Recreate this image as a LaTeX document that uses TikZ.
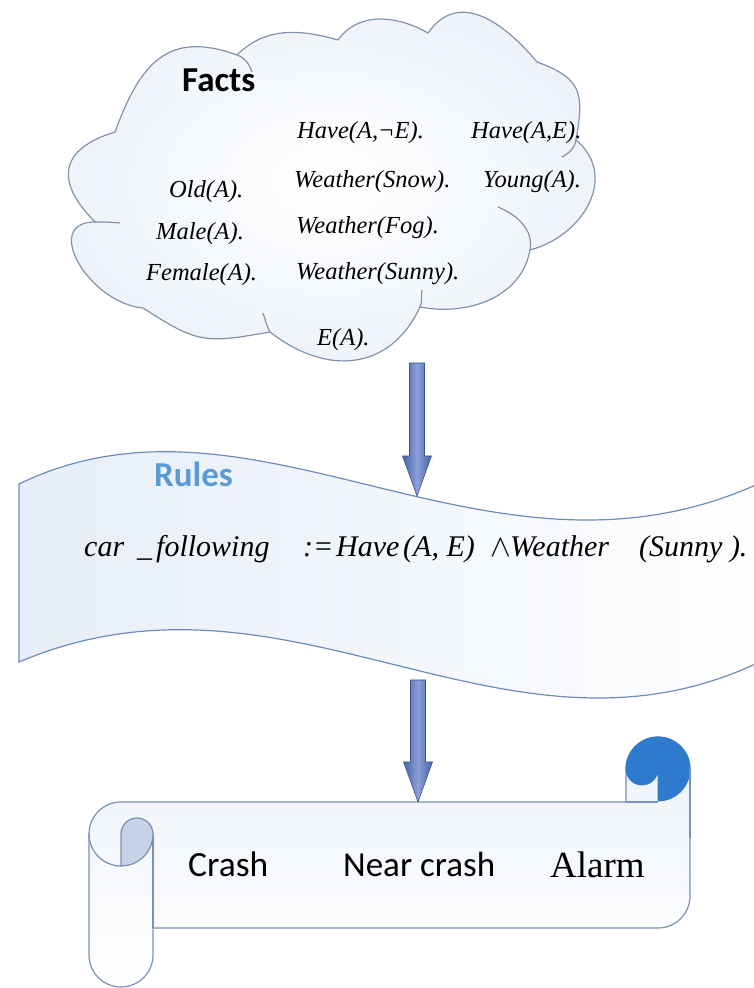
\documentclass[tikz,border=0pt]{standalone}
\usepackage{fontspec}
\setmainfont{Liberation Serif}
\newfontfamily\carl{Carlito}
\usetikzlibrary{calc}
\definecolor{cloudedge}{RGB}{130,146,170}
\definecolor{waveedge}{RGB}{110,140,185}
\definecolor{scrolledge}{RGB}{120,145,180}
\definecolor{rulesblue}{RGB}{91,155,213}
\definecolor{rollblue}{RGB}{46,122,204}
\definecolor{curlfill}{RGB}{200,210,230}
\definecolor{arrowdark}{RGB}{70,98,165}
\definecolor{arrowlight}{RGB}{140,160,215}
\definecolor{paleblue}{RGB}{222,232,245}
\tikzset{
  fact/.style={anchor=base west, font=\fontsize{24.5}{28}\selectfont\itshape, inner sep=0pt},
  title/.style={anchor=base west, font=\carl\bfseries\fontsize{35}{40}\selectfont, inner sep=0pt},
  outtext/.style={anchor=base west, inner sep=0pt},
  curl/.style={draw=cloudedge, line width=1.2pt},
  fatarrow/.style={left color=arrowdark, right color=arrowdark, middle color=arrowlight, draw=arrowdark!85!black, line width=0.6pt}
}
\newcommand{\bigarrow}[2]{%
  \shadedraw[fatarrow] ($(#1)+(-7.5,0)$) -- ($(#2)+(-7.5,40)$) -- ($(#2)+(-14.5,40)$) -- (#2) -- ($(#2)+(14.5,40)$) -- ($(#2)+(7.5,40)$) -- ($(#1)+(7.5,0)$) -- cycle;}
\begin{document}
\begin{tikzpicture}[x=1pt,y=1pt]
\useasboundingbox (0,0) rectangle (753,988);

% ---------------- cloud ----------------
\coordinate (P1) at (115,856);
\coordinate (P2) at (237,933);
\coordinate (P3) at (338,948);
\coordinate (P4) at (428,955);
\coordinate (P5) at (537,926);
\coordinate (P6) at (576,848);
\coordinate (P7) at (530,738);
\coordinate (P8) at (420,681);
\coordinate (P9) at (270,656);
\coordinate (P10) at (143,680);
\coordinate (P11) at (95,766);
\shadedraw[draw=cloudedge, line width=1.2pt, inner color=white, outer color=paleblue!55]
  (P1) to[out=70,in=160,looseness=1.3] (P2)
  to[out=45,in=164] (P3)
  to[out=55,in=150] (P4)
  to[out=55,in=130,looseness=1.2] (P5)
  to[out=-20,in=80,looseness=1.4] (P6)
  to[out=-40,in=15,looseness=1.2] (P7)
  to[out=260,in=-11] (P8)
  to[out=245,in=322,looseness=1.2] (P9)
  to[out=190,in=327,looseness=1.3] (P10)
  to[out=175,in=180,looseness=1.4] (P11)
  to[out=135,in=197,looseness=1.6] (P1) -- cycle;
\draw[curl] (P2) to[out=-20,in=110] (252,916);
\draw[curl] (P6) to[out=260,in=30] (562,831);
\draw[curl] (P7) to[out=80,in=-23] (498,781);
\draw[curl] (P8) to[out=65,in=260] (422,698);
\draw[curl] (P9) to[out=120,in=290] (263,675);
\draw[curl] (P11) to[out=0,in=175] (120,765);

\node[title] (facts) at (182,896) {Facts};
\node[fact] (f1) at (297,849) {Have(A,¬E).};
\node[fact] (f2) at (471,849) {Have(A,E).};
\node[fact] (f3) at (294,800) {Weather(Snow).};
\node[fact] (f4) at (483,800) {Young(A).};
\node[fact] (f5) at (169,790) {Old(A).};
\node[fact] (f6) at (296,754) {Weather(Fog).};
\node[fact] (f7) at (156,748) {Male(A).};
\node[fact] (f8) at (146,707) {Female(A).};
\node[fact] (f9) at (296,708) {Weather(Sunny).};
\node[fact] (f10) at (317,642) {E(A).};

% ---------------- wave (rules) ----------------
\shadedraw[draw=waveedge, line width=1.2pt, left color=paleblue!75, right color=white]
  (19,504) .. controls (265,623) and (505,363) .. (790,520)
  -- (790,342) .. controls (520,185) and (300,445) .. (19,326) -- cycle;
\node[title, text=rulesblue] (rules) at (154,501) {Rules};
\node[outtext, font=\fontsize{30}{34}\selectfont\itshape] (rule) at (84,431)
  {\makebox[53pt][l]{car}\makebox[19pt][l]{\_}\makebox[147pt][l]{following}\makebox[33pt][l]{:=}\makebox[67pt][l]{Have}\makebox[87pt][l]{(A, E)}\makebox[20pt][l]{\scalebox{1.25}{$\wedge$}}\makebox[129pt][l]{Weather}(Sunny ).};

% ---------------- scroll ----------------
\shadedraw[draw=scrolledge, line width=1.2pt, top color=paleblue!55, bottom color=white]
  (89,154) arc[start angle=180,end angle=90,radius=32] -- (626,186) -- (626,219)
  arc[start angle=180,end angle=0,radius=32] -- (690,92)
  arc[start angle=0,end angle=-90,radius=32] -- (153,60) -- (153,33)
  arc[start angle=0,end angle=-180,radius=32] -- cycle;
\draw[draw=scrolledge, line width=1.2pt] (153,154) -- (153,60);
\draw[draw=scrolledge, line width=1.2pt] (89,154) arc[start angle=180,end angle=270,radius=32];
\filldraw[fill=curlfill, draw=scrolledge, line width=1.2pt] (121,122) -- (121,154)
  arc[start angle=180,end angle=0,radius=16] arc[start angle=0,end angle=-90,radius=32] -- cycle;
\draw[draw=scrolledge, line width=1.2pt] (626,186) -- (658,186);
\filldraw[fill=rollblue, draw=rollblue, line width=0.8pt] (626,219)
  arc[start angle=180,end angle=0,radius=32] arc[start angle=0,end angle=-90,radius=32]
  -- (658,219) arc[start angle=0,end angle=-180,radius=16] -- cycle;
\draw[draw=scrolledge, line width=1.2pt] (690,219) -- (690,150);

\node[outtext, font=\carl\fontsize{35.5}{40}\selectfont] (crash) at (188,111) {Crash};
\node[outtext, font=\carl\fontsize{35}{40}\selectfont] (near) at (343,111) {Near crash};
\node[outtext, font=\fontsize{37}{42}\selectfont] (alarm) at (550,110) {Alarm};

% ---------------- arrows ----------------
\coordinate (cloudbot) at (417,625);
\coordinate (wavetop) at (417,492);
\coordinate (wavebot) at (418,308);
\coordinate (scrolltop) at (418,186);
\bigarrow{cloudbot}{wavetop}
\bigarrow{wavebot}{scrolltop}
\end{tikzpicture}
\end{document}
